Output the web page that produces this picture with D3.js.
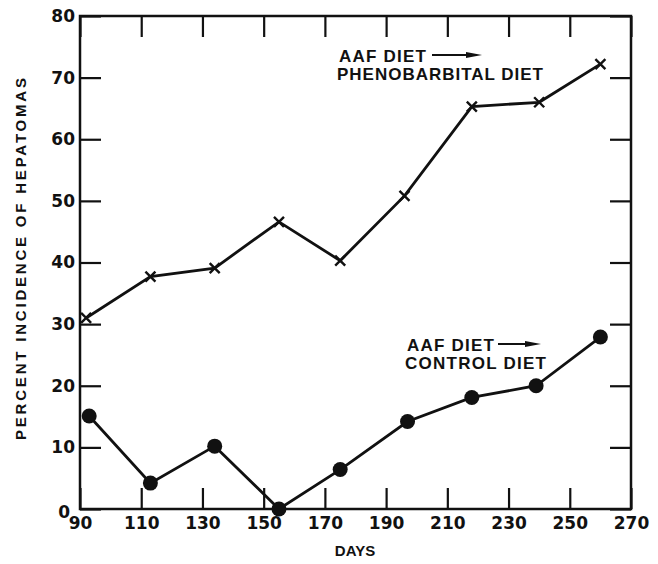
<!DOCTYPE html>
<html lang="en">
<head>
    <meta charset="UTF-8">
    <title>hepatoma incidence</title>
    <script src="https://cdn.jsdelivr.net/npm/d3@7"></script>
    <style>
        body { margin: 0; background: #fff; }
        .tick text { font-family: "DejaVu Sans", sans-serif; font-weight: bold; font-size: 17px; fill: #111; }
        .lbl { font-family: "Liberation Sans", Arial, sans-serif; font-weight: bold; fill: #111; }
    </style>
</head>
<body>
<svg id="main" width="658" height="564"></svg>
<script>
    // values
    let days_pheno = [92, 113, 134, 155, 175, 196, 218, 240, 260]
    let pheno = [31, 37.7, 39.1, 46.6, 40.3, 50.8, 65.3, 66, 72.2]
    let days_ctrl = [93, 113, 134, 155, 175, 197, 218, 239, 260]
    let ctrl = [15.1, 4.2, 10.2, 0, 6.4, 14.2, 18.1, 20, 27.9]
    let x_ticks = [90, 110, 130, 150, 170, 190, 210, 230, 250, 270]
    let y_ticks = [0, 10, 20, 30, 40, 50, 60, 70, 80]

    let margin = {left: 80, right: 27, top: 16, bottom: 55}
    let W = 658, H = 564
    let w = W - margin.left - margin.right
    let h = H - margin.top - margin.bottom
    let ink = "#111"
    let tl = 21

    let svg = d3.select("#main")
    let g = svg.append("g").attr("transform", `translate(${margin.left},${margin.top})`)

    let x = d3.scaleLinear().domain([90, 270]).range([0, w])
    let y = d3.scaleLinear().domain([0, 80]).range([h, 0])

    // bottom axis with labels, ticks pointing in
    let xb = g.append("g").attr("transform", `translate(0,${h})`)
        .call(d3.axisBottom(x).tickValues(x_ticks).tickSizeInner(-tl).tickSizeOuter(0).tickPadding(8).tickFormat(d3.format("d")))
    let yl = g.append("g")
        .call(d3.axisLeft(y).tickValues(y_ticks).tickSizeInner(-tl).tickSizeOuter(0).tickPadding(5).tickFormat(d3.format("d")))
    // top / right just ticks
    g.append("g").call(d3.axisTop(x).tickValues(x_ticks).tickSizeInner(-tl).tickSizeOuter(0).tickFormat(""))
    g.append("g").attr("transform", `translate(${w},0)`)
        .call(d3.axisRight(y).tickValues(y_ticks).tickSizeInner(-tl).tickSizeOuter(0).tickFormat(""))

    g.selectAll(".domain").remove()
    g.selectAll(".tick line").attr("stroke", ink).attr("stroke-width", 2.2)
    // zero label sits down-left of the corner
    yl.selectAll(".tick").filter(d => d === 0).select("text").attr("x", -10).attr("dy", "0.5em")

    g.append("rect").attr("width", w).attr("height", h)
        .attr("fill", "none").attr("stroke", ink).attr("stroke-width", 2.5)

    // series
    let pts_p = days_pheno.map((d, i) => [d, pheno[i]])
    let pts_c = days_ctrl.map((d, i) => [d, ctrl[i]])
    let line = d3.line().x(d => x(d[0])).y(d => y(d[1]))

    g.append("path").datum(pts_p).attr("d", line)
        .attr("fill", "none").attr("stroke", ink).attr("stroke-width", 2.8)
    g.append("path").datum(pts_c).attr("d", line)
        .attr("fill", "none").attr("stroke", ink).attr("stroke-width", 2.8)

    let s = 5
    g.selectAll(".xmark").data(pts_p).enter().append("path")
        .attr("class", "xmark")
        .attr("d", d => {
            let cx = x(d[0]), cy = y(d[1])
            return `M${cx - s},${cy - s}L${cx + s},${cy + s}M${cx + s},${cy - s}L${cx - s},${cy + s}`
        })
        .attr("stroke", ink).attr("stroke-width", 2.4).attr("fill", "none")

    g.selectAll(".dot").data(pts_c).enter().append("circle")
        .attr("class", "dot")
        .attr("cx", d => x(d[0])).attr("cy", d => y(d[1])).attr("r", 7.5)
        .attr("fill", ink)

    // axis titles
    svg.append("text").attr("class", "lbl")
        .attr("x", 355).attr("y", 556).attr("text-anchor", "middle")
        .style("font-size", "15px").text("DAYS")
    svg.append("text").attr("class", "lbl")
        .attr("transform", "translate(26,259) rotate(-90)")
        .attr("text-anchor", "middle")
        .attr("textLength", 362).attr("lengthAdjust", "spacing")
        .style("font-size", "15px").text("PERCENT INCIDENCE OF HEPATOMAS")

    // annotations
    function note(x0, y0, l1, l2, w2, ax0, ax1) {
        svg.append("text").attr("class", "lbl").attr("x", x0).attr("y", y0)
            .attr("textLength", 87).attr("lengthAdjust", "spacing")
            .style("font-size", "17px").text(l1)
        svg.append("text").attr("class", "lbl").attr("x", x0 - 2).attr("y", y0 + 18)
            .attr("textLength", w2).attr("lengthAdjust", "spacing")
            .style("font-size", "17px").text(l2)
        let ay = y0 - 7
        svg.append("line").attr("x1", ax0).attr("x2", ax1 - 10).attr("y1", ay).attr("y2", ay)
            .attr("stroke", ink).attr("stroke-width", 1.8)
        svg.append("path").attr("d", `M${ax1 - 16},${ay - 3}L${ax1},${ay}L${ax1 - 16},${ay + 3}Z`).attr("fill", ink)
    }
    note(339, 62, "AAF DIET", "PHENOBARBITAL DIET", 206, 432, 482)
    note(407, 351, "AAF DIET", "CONTROL DIET", 141, 498, 541)
</script>
</body>
</html>
